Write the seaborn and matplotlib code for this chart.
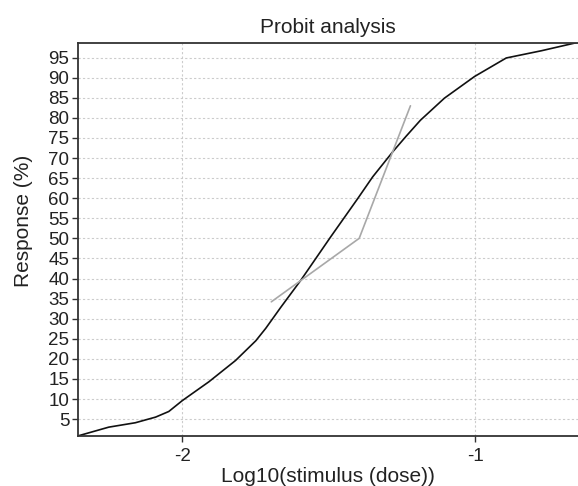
import matplotlib
matplotlib.use("Agg")
import matplotlib.pyplot as plt
import seaborn as sns
import pandas as pd

# fitted probit curve (log10 dose, response %)
fit_x = [-2.357, -2.251, -2.160, -2.091, -2.046, -2.000, -1.909, -1.818,
         -1.749, -1.715, -1.664, -1.595, -1.493, -1.401, -1.350, -1.282,
         -1.236, -1.187, -1.105, -1.002, -0.894, -0.774, -0.649]
fit_y = [0.8, 3.0, 4.1, 5.5, 6.9, 9.6, 14.3, 19.6,
         24.5, 27.6, 32.8, 39.6, 50.4, 59.9, 65.3, 71.5,
         75.4, 79.4, 84.9, 90.3, 94.9, 96.7, 98.8]

# observed responses
obs_x = [-1.696, -1.396, -1.221]
obs_y = [34.2, 50.0, 83.0]

y_ticks = list(range(5, 100, 5))
x_ticks = [-2, -1]

fit = pd.DataFrame({"x": fit_x, "y": fit_y})
obs = pd.DataFrame({"x": obs_x, "y": obs_y})

sns.set_theme(style="white")
plt.rcParams["font.family"] = ["Liberation Sans", "DejaVu Sans"]

fig = plt.figure(figsize=(5.78, 4.86), dpi=100)
ax = fig.add_axes([0.1344, 0.1029, 0.8656, 0.8092])

sns.lineplot(data=fit, x="x", y="y", sort=False, estimator=None,
             color="#111111", linewidth=1.2, ax=ax)
sns.lineplot(data=obs, x="x", y="y", sort=False, estimator=None,
             color="#a8a8a8", linewidth=1.2, ax=ax)

ax.set_xlim(-2.357, -0.649)
ax.set_ylim(0.8, 98.7)
ax.set_yticks(y_ticks)
ax.set_xticks(x_ticks)
ax.set_xticklabels(["-2", "-1"])

ax.grid(True, color="#cccccc", linestyle=(0, (2, 2)), linewidth=0.8)
for side in ["left", "bottom", "top"]:
    ax.spines[side].set_color("#333333")
    ax.spines[side].set_linewidth(1.3)
ax.spines["right"].set_visible(False)

ax.tick_params(axis="both", direction="out", length=4, width=1,
               color="#333333", labelsize=13.5, labelcolor="#222222",
               left=True, bottom=True)
ax.tick_params(axis="y", pad=2)
ax.tick_params(axis="x", pad=5)

ax.set_title("Probit analysis", fontsize=15, color="#222222", pad=7)
ax.set_xlabel("Log10(stimulus (dose))", fontsize=15, color="#222222", labelpad=1)
ax.set_ylabel("Response (%)", fontsize=15, color="#222222")
ax.yaxis.set_label_coords(-0.0895, 0.5467)

fig.savefig("out.png", dpi=100)
